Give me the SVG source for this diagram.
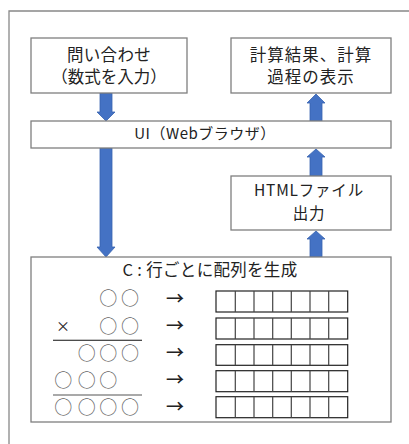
<svg xmlns="http://www.w3.org/2000/svg" width="409" height="444" viewBox="0 0 409 444">
<style>
.box{fill:#fff;stroke:#7f7f7f;stroke-width:1.3}
.t{font-family:"Noto Sans CJK JP","Noto Sans",sans-serif;fill:#222;text-anchor:middle}
.arr{fill:#4472c4;stroke:#3763b0;stroke-width:0.8}
.o{font-family:"Noto Sans CJK JP",sans-serif;fill:#666;font-size:18px;text-anchor:middle}
.ar{font-family:"Noto Sans CJK JP",sans-serif;fill:#222;font-size:18px;font-weight:500;text-anchor:middle}
.g{fill:none;stroke:#222;stroke-width:1.2}
.gv{stroke:#444;stroke-width:1.2}
</style>
<rect width="409" height="444" fill="#fff"/>
<path d="M9,444 V11 H409" fill="none" stroke="#888" stroke-width="1.3"/>
<g id="connectors">
<polygon class="arr" points="100,93 112,93 112,112 115,112 106,121 97,112 100,112"/>
<polygon class="arr" points="310,121 322,121 322,103 325,103 316,94 307,103 310,103"/>
<polygon class="arr" points="100,148 112,148 112,247 115,247 106,257 97,247 100,247"/>
<polygon class="arr" points="310,176 322,176 322,157 325,157 316,149 307,157 310,157"/>
<polygon class="arr" points="310,257 322,257 322,239 325,239 316,231 307,239 310,239"/>
</g>
<g id="query">
<rect class="box" x="31" y="38" width="156" height="55"/>
<text class="t" x="109" y="60.5" font-size="16.5" letter-spacing="0.3">問い合わせ</text>
<text class="t" x="109" y="82.5" font-size="16.5">（数式を入力）</text>
</g>
<g id="result">
<rect class="box" x="231" y="38" width="160" height="55"/>
<text class="t" x="311" y="60.5" font-size="16.5" letter-spacing="1">計算結果、計算</text>
<text class="t" x="311" y="82.5" font-size="16.5" letter-spacing="1">過程の表示</text>
</g>
<g id="ui">
<rect class="box" x="31" y="121" width="360" height="27"/>
<text class="t" x="205" y="139" font-size="15" letter-spacing="0.5">UI（Webブラウザ）</text>
</g>
<g id="html">
<rect class="box" x="231" y="176" width="160" height="54"/>
<text class="t" x="309" y="196" font-size="15.5" letter-spacing="0.8">HTMLファイル</text>
<text class="t" x="309" y="218.5" font-size="15.5" letter-spacing="0.8">出力</text>
</g>
<g id="c">
<rect class="box" x="31" y="257" width="360" height="165"/>
<text class="t" x="210" y="276" font-size="16.5" letter-spacing="0.3">C : 行ごとに配列を生成</text>
<text class="o" x="108.3 130" y="305">○○</text>
<text class="t" x="63" y="331" font-size="14">×</text>
<text class="o" x="108.3 130" y="332.5">○○</text>
<line x1="53" y1="340.3" x2="142" y2="340.3" stroke="#111" stroke-width="1.1"/>
<text class="o" x="86.7 108.3 130" y="359.5">○○○</text>
<text class="o" x="63.3 86.7 108.3" y="386.8">○○○</text>
<line x1="53" y1="395" x2="142" y2="395" stroke="#555" stroke-width="1.1"/>
<text class="o" x="63.3 86.7 108.3 130" y="413.5">○○○○</text>
<text class="ar" x="175" y="304.5">→</text>
<text class="ar" x="175" y="332">→</text>
<text class="ar" x="175" y="359">→</text>
<text class="ar" x="175" y="386">→</text>
<text class="ar" x="175" y="413">→</text>
<g class="g">
<rect x="216" y="291" width="131.7" height="21"/>
<rect x="216" y="318" width="131.7" height="21"/>
<rect x="216" y="344.7" width="131.7" height="20.6"/>
<rect x="216" y="370.7" width="131.7" height="21"/>
<rect x="216" y="396.7" width="131.7" height="21"/>
<path class="gv" d="M235.3,291V312M254,291V312M272.7,291V312M291.3,291V312M310,291V312M328.7,291V312M235.3,318V339M254,318V339M272.7,318V339M291.3,318V339M310,318V339M328.7,318V339M235.3,344.7V365.3M254,344.7V365.3M272.7,344.7V365.3M291.3,344.7V365.3M310,344.7V365.3M328.7,344.7V365.3M235.3,370.7V391.7M254,370.7V391.7M272.7,370.7V391.7M291.3,370.7V391.7M310,370.7V391.7M328.7,370.7V391.7M235.3,396.7V417.7M254,396.7V417.7M272.7,396.7V417.7M291.3,396.7V417.7M310,396.7V417.7M328.7,396.7V417.7"/>
</g>
</g>
</svg>
